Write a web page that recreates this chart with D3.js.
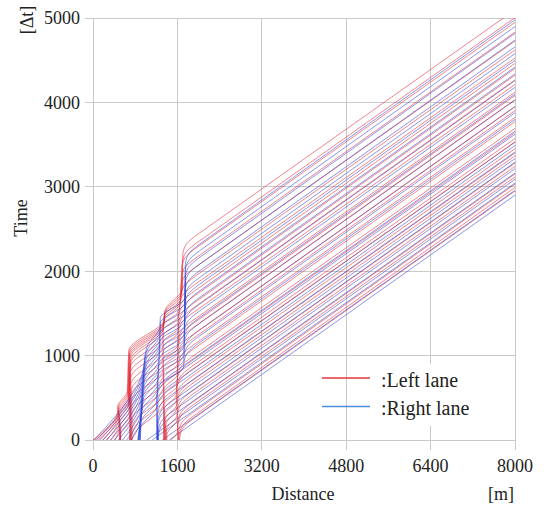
<!DOCTYPE html>
<html><head><meta charset="utf-8">
<script src="https://cdn.jsdelivr.net/npm/d3@7"></script>
<style>body{margin:0;background:#fff}svg{display:block}svg text{fill:#222}</style>
</head><body><svg id="c" width="546" height="508"></svg>
<script>
// ---------------- data (distance [m], time [Δt]) ----------------
const xTicks = [0, 1600, 3200, 4800, 6400, 8000];
const yTicks = [0, 1000, 2000, 3000, 4000, 5000];
const laneNames = [":Left lane", ":Right lane"];

// Left lane (red) trajectories: waypoints up to the end of acceleration
const leftLanePaths = [
  [[1640,0],[1685,120],[1920,260]],
  [[1630,0],[1630,27],[1675,147],[1910,287]],
  [[1620,0],[1620,67],[1665,187],[1900,327]],
  [[1610,0],[1610,152],[1655,272],[1890,412]],
  [[1480,0],[1605,110],[1605,187],[1650,307],[1885,447]],
  [[1400,0],[1400,60],[1600,250],[1600,277],[1645,397],[1880,537]],
  [[1390,0],[1390,120],[1595,300],[1595,317],[1640,437],[1875,577]],
  [[1380,0],[1380,180],[1590,380],[1590,402],[1635,522],[1870,662]],
  [[1370,0],[1370,240],[1585,420],[1585,437],[1630,557],[1865,697]],
  [[1360,0],[1360,300],[1580,470],[1580,487],[1625,607],[1860,747]],
  [[1350,0],[1350,360],[1580,540],[1580,567],[1625,687],[1860,827]],
  [[1345,0],[1345,420],[1585,580],[1585,607],[1630,727],[1865,867]],
  [[1340,0],[1340,480],[1590,640],[1590,677],[1635,797],[1870,937]],
  [[740,0],[770,60],[1345,440],[1345,540],[1600,700],[1600,727],[1645,847],[1880,987]],
  [[733,0],[763,120],[1343,500],[1343,600],[1602,780],[1602,807],[1647,927],[1882,1067]],
  [[726,0],[756,180],[1341,560],[1341,660],[1604,830],[1604,857],[1649,977],[1884,1117]],
  [[719,0],[749,250],[1339,630],[1339,730],[1606,910],[1606,937],[1651,1057],[1886,1197]],
  [[712,0],[742,320],[1337,700],[1337,790],[1608,960],[1608,987],[1653,1107],[1888,1247]],
  [[705,0],[735,390],[1335,770],[1335,860],[1610,1040],[1610,1067],[1655,1187],[1890,1327]],
  [[698,0],[728,460],[1333,840],[1333,920],[1612,1090],[1612,1117],[1657,1237],[1892,1377]],
  [[691,0],[721,530],[1331,910],[1331,960],[1614,1130],[1614,1157],[1659,1277],[1894,1417]],
  [[525,0],[525,60],[700,230],[730,600],[1330,980],[1330,1040],[1616,1220],[1616,1247],[1661,1367],[1896,1507]],
  [[520,0],[520,110],[693,280],[723,670],[1330,1050],[1330,1100],[1618,1280],[1618,1302],[1663,1422],[1898,1562]],
  [[515,0],[515,160],[686,330],[716,740],[1330,1120],[1330,1160],[1620,1330],[1620,1357],[1665,1477],[1900,1617]],
  [[510,0],[510,210],[679,380],[709,800],[1330,1180],[1330,1230],[1622,1410],[1622,1437],[1667,1557],[1902,1697]],
  [[505,0],[505,250],[672,420],[702,860],[1330,1240],[1330,1300],[1624,1470],[1624,1497],[1669,1617],[1904,1757]],
  [[420,0],[500,150],[500,280],[690,450],[720,920],[1330,1300],[1330,1360],[1640,1540],[1640,1577],[1685,1697],[1920,1837]],
  [[340,0],[495,200],[495,300],[683,470],[713,950],[1335,1330],[1335,1400],[1650,1620],[1650,1677],[1695,1797],[1930,1937]],
  [[260,0],[490,250],[490,320],[676,490],[706,980],[1340,1355],[1340,1430],[1660,1650],[1660,1787],[1705,1907],[1940,2047]],
  [[180,0],[485,300],[485,340],[669,510],[699,1000],[1345,1375],[1345,1460],[1670,1680],[1670,1897],[1715,2017],[1950,2157]],
  [[100,0],[480,320],[480,360],[662,530],[692,1020],[1350,1395],[1350,1480],[1680,1720],[1680,2017],[1725,2137],[1960,2277]],
  [[40,0],[475,340],[475,380],[655,550],[685,1040],[1355,1415],[1355,1500],[1690,1760],[1690,2077],[1735,2197],[1970,2337]],
  [[0,0],[470,355],[470,400],[648,570],[678,1060],[1360,1440],[1360,1520],[1700,1800],[1700,2175],[1745,2295],[1980,2435]]
];
// time at which each left-lane vehicle reaches 8000 m
const leftLaneExit = [2950,2992,3032,3117,3152,3242,3282,3367,3402,3452,3532,3572,3642,
  3692,3772,3822,3902,3952,4032,4082,4122,4212,4267,4322,4402,4462,4526,4621,4727,4832,4948,5004,5097];

// Right lane (blue) trajectories
const rightLanePaths = [
  [[1445,0]],
  [[1314,0]],
  [[1122,0]],
  [[1020,0]],
  [[1240,0],[1240,33],[1285,153],[1520,293]],
  [[1235,0],[1235,83],[1280,203],[1515,343]],
  [[1230,0],[1230,161],[1275,281],[1510,421]],
  [[1225,0],[1225,203],[1270,323],[1505,463]],
  [[1220,0],[1220,281],[1265,401],[1500,541]],
  [[1215,0],[1215,358],[1260,478],[1495,618]],
  [[1210,0],[1210,398],[1255,518],[1490,658]],
  [[850,0],[900,150],[1210,410],[1210,483],[1255,603],[1490,743]],
  [[858,0],[905,220],[1215,480],[1215,523],[1260,643],[1495,783]],
  [[866,0],[915,290],[1220,550],[1220,620],[1720,870],[1720,885],[1765,1005],[2000,1145]],
  [[874,0],[925,350],[1225,610],[1225,700],[1722,950],[1722,965],[1767,1085],[2002,1225]],
  [[882,0],[935,410],[1230,670],[1230,760],[1724,1010],[1724,1035],[1769,1155],[2004,1295]],
  [[890,0],[945,470],[1235,730],[1235,800],[1726,1050],[1726,1115],[1771,1235],[2006,1375]],
  [[898,0],[955,530],[1240,790],[1240,860],[1728,1110],[1728,1185],[1773,1305],[2008,1445]],
  [[720,0],[880,180],[960,580],[1245,840],[1245,900],[1730,1150],[1730,1265],[1775,1385],[2010,1525]],
  [[640,0],[885,260],[970,640],[1250,900],[1250,960],[1732,1210],[1732,1345],[1777,1465],[2012,1605]],
  [[560,0],[890,330],[975,700],[1255,960],[1255,1010],[1734,1260],[1734,1425],[1779,1545],[2014,1685]],
  [[480,0],[895,400],[985,760],[1260,1020],[1260,1060],[1736,1310],[1736,1505],[1781,1625],[2016,1765]],
  [[400,0],[900,460],[990,810],[1262,1070],[1262,1110],[1738,1360],[1738,1585],[1783,1705],[2018,1845]],
  [[330,0],[905,520],[995,860],[1264,1120],[1264,1160],[1740,1410],[1740,1665],[1785,1785],[2020,1925]],
  [[260,0],[910,580],[1000,900],[1266,1160],[1266,1200],[1742,1450],[1742,1745],[1787,1865],[2022,2005]],
  [[190,0],[915,630],[1005,950],[1268,1200],[1268,1260],[1744,1510],[1744,1825],[1789,1945],[2024,2085]],
  [[130,0],[920,680],[1010,1000],[1270,1250],[1270,1320],[1746,1570],[1746,1905],[1791,2025],[2026,2165]],
  [[70,0],[925,730],[1015,1050],[1272,1300],[1272,1380],[1748,1630],[1748,1985],[1793,2105],[2028,2245]],
  [[20,0],[930,780],[1020,1100],[1274,1350],[1274,1440],[1750,1690],[1750,2065],[1795,2185],[2030,2325]]
];
const rightLaneExit = [2901,2959,3044,3089,3164,3214,3292,3334,3412,3489,3529,3622,3660,
  3798,3878,3948,4028,4098,4178,4258,4338,4418,4498,4578,4658,4738,4818,4898,4978];

const roadEnd = 8000;

// ---------------- drawing ----------------
const L = 93, R = 515, T = 18, B = 440;
const svg = d3.select('#c');

// pick an installed serif face (Times-like) by measuring against a monospace fallback
function hasFont(name) {
  const t = svg.append('text').attr('font-size', 40).text('Distance 0123456789 Left lane');
  t.style('font-family', 'monospace');
  const w0 = t.node().getComputedTextLength();
  t.style('font-family', '"' + name + '", monospace');
  const w1 = t.node().getComputedTextLength();
  t.remove();
  return Math.abs(w1 - w0) > 0.5;
}
const serifCandidates = ['Liberation Serif', 'Times New Roman', 'Tinos', 'Nimbus Roman', 'Nimbus Roman No9 L',
  'FreeSerif', 'DejaVu Serif', 'Noto Serif', 'Noto Serif CJK JP', 'Noto Serif CJK SC'];
const serifFace = serifCandidates.find(hasFont);
const font = serifFace ? '"' + serifFace + '", serif' : 'serif';

const x = d3.scaleLinear().domain([0, 8000]).range([L, R]);
const y = d3.scaleLinear().domain([0, 5000]).range([B, T]);
const gridCol = '#c9c9c9';

// grid + ticks
const g = svg.append('g');
g.selectAll('line.vx').data(xTicks).join('line')
  .attr('x1', d => x(d)).attr('x2', d => x(d)).attr('y1', T).attr('y2', B + 10)
  .attr('stroke', gridCol).attr('stroke-width', 1).attr('shape-rendering', 'crispEdges');
g.selectAll('line.hy').data(yTicks).join('line')
  .attr('x1', L - 8).attr('x2', R).attr('y1', d => y(d)).attr('y2', d => y(d))
  .attr('stroke', gridCol).attr('stroke-width', 1).attr('shape-rendering', 'crispEdges');

// trajectories
svg.append('clipPath').attr('id', 'clip').append('rect')
  .attr('x', L).attr('y', T).attr('width', R - L).attr('height', B - T);
const curved = d3.line().x(d => x(d[0])).y(d => y(d[1])).curve(d3.curveMonotoneY);
const straight = d3.line().x(d => x(d[0])).y(d => y(d[1]));
function trajPath(pts, exitT) {
  const last = pts[pts.length - 1];
  const tail = straight([last, [roadEnd, exitT]]);
  if (pts.length < 2) return tail;
  return curved(pts) + 'L' + tail.split('L')[1];
}
const vehicles = [];
leftLanePaths.forEach((p, i) => vehicles.push({p, e: leftLaneExit[i], lane: 0}));
rightLanePaths.forEach((p, i) => vehicles.push({p, e: rightLaneExit[i], lane: 1}));
vehicles.sort((a, b) => a.e - b.e);
const laneCol = ['#e4202c', '#2a3fd6'];
svg.append('g').attr('clip-path', 'url(#clip)')
  .selectAll('path').data(vehicles).join('path')
  .attr('d', d => trajPath(d.p, d.e))
  .attr('fill', 'none')
  .attr('stroke', d => laneCol[d.lane])
  .attr('stroke-opacity', 0.55)
  .attr('stroke-width', 1);

// tick labels
const txt = sel => sel.style('font-family', font).attr('fill', '#222');
svg.append('g').selectAll('text').data(yTicks).join('text')
  .attr('x', L - 13).attr('y', d => y(d)).attr('dy', '0.35em')
  .attr('text-anchor', 'end').attr('font-size', 18).call(txt).text(d => d);
svg.append('g').selectAll('text').data(xTicks).join('text')
  .attr('x', d => x(d)).attr('y', 472)
  .attr('text-anchor', 'middle').attr('font-size', 18).call(txt).text(d => d);

// axis titles
svg.append('text').attr('x', 303).attr('y', 500).attr('text-anchor', 'middle')
  .attr('font-size', 18).call(txt).text('Distance');
svg.append('text').attr('x', 501).attr('y', 500).attr('text-anchor', 'middle')
  .attr('font-size', 18).call(txt).text('[m]');
svg.append('text').attr('transform', 'translate(27,218) rotate(-90)').attr('text-anchor', 'middle')
  .attr('font-size', 18).call(txt).text('Time');
svg.append('text').attr('transform', 'translate(33,20) rotate(-90)').attr('text-anchor', 'middle')
  .attr('font-size', 18).call(txt).text('[Δt]');

// legend
const leg = svg.append('g');
leg.append('rect').attr('x', 378).attr('y', 364).attr('width', 118).attr('height', 62).attr('fill', '#fff');
const legCol = ['#e8323a', '#4a8fd8'];
laneNames.forEach((name, i) => {
  const yy = 378 + i * 28.5;
  leg.append('line').attr('x1', 322).attr('x2', 370).attr('y1', yy).attr('y2', yy)
    .attr('stroke', legCol[i]).attr('stroke-width', 1.3);
  leg.append('text').attr('x', 381).attr('y', yy + 8.5)
    .attr('font-size', 20).call(txt).text(name);
});
</script></body></html>
